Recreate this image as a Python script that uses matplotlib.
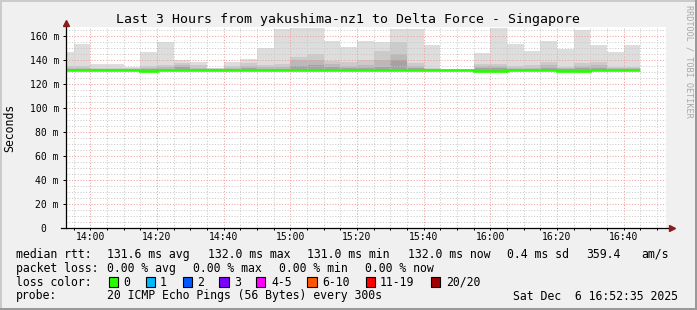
import matplotlib
matplotlib.use("Agg")
import matplotlib.pyplot as plt
from matplotlib.patches import Rectangle
import numpy as np

# ---------------- data ----------------
title = "Last 3 Hours from yakushima-nz1 to Delta Force - Singapore"
period_start = "13:52:35"
period_end = "16:52:35"
# 5-minute slot boundaries (first slot is partial)
slot_edges = ["13:52:35", "13:55", "14:00", "14:05", "14:10", "14:15", "14:20", "14:25",
              "14:30", "14:35", "14:40", "14:45", "14:50", "14:55", "15:00", "15:05",
              "15:10", "15:15", "15:20", "15:25", "15:30", "15:35", "15:40", "15:45",
              "15:50", "15:55", "16:00", "16:05", "16:10", "16:15", "16:20", "16:25",
              "16:30", "16:35", "16:40", "16:45"]
# smoke (ping spread) in ms per slot: outer max, inner quantile layers, min
smoke_max = [146.7, 153.6, 136.7, 136.7, 134.4, 146.7, 155.3, 140.6, 138.6, 133.6,
             138.6, 140.8, 150.3, 165.8, 166.7, 166.7, 155.8, 151.0, 155.8, 155.4,
             166.5, 165.8, 152.5, 132.8, 132.8, 145.8, 166.7, 153.6, 147.5, 155.8,
             149.4, 165.0, 152.5, 146.7, 152.5]
smoke_q2 = [135.0, 135.0, 134.0, 134.0, 133.5, 135.0, 135.8, 137.8, 135.8, 133.2,
            135.3, 137.5, 136.4, 136.7, 142.8, 145.6, 139.4, 138.6, 140.6, 147.8,
            155.6, 137.8, 134.0, 132.5, 132.5, 137.2, 137.2, 135.0, 135.8, 138.6,
            134.4, 137.8, 138.6, 134.4, 134.4]
smoke_q3 = [133.5, 133.5, 133.0, 133.0, 133.0, 133.8, 134.2, 135.8, 134.0, 133.0,
            134.0, 135.0, 134.5, 134.5, 140.0, 140.6, 137.2, 135.0, 136.0, 140.6,
            145.6, 135.0, 133.0, 132.3, 132.3, 135.0, 135.3, 134.0, 134.0, 135.8,
            133.5, 135.0, 135.8, 133.5, 133.5]
smoke_q4 = [132.8, 132.8, 132.5, 132.5, 132.5, 133.0, 133.0, 134.2, 133.0, 132.5,
            133.0, 133.5, 133.0, 133.0, 135.0, 135.8, 134.4, 133.5, 134.0, 134.4,
            140.0, 133.5, 132.5, 132.2, 132.2, 133.5, 133.5, 133.0, 133.0, 134.0,
            132.8, 133.5, 134.0, 132.8, 132.8]
smoke_min = [131.0, 131.0, 131.0, 131.0, 131.0, 130.8, 131.0, 131.0, 131.0, 131.0,
             131.0, 131.0, 131.0, 131.0, 131.0, 131.0, 131.0, 131.0, 131.0, 131.0,
             131.0, 131.0, 131.0, 131.5, 131.5, 130.8, 130.8, 131.0, 131.0, 131.0,
             130.8, 130.8, 131.0, 131.0, 131.0]
median_rtt = [131.6, 131.7, 131.8, 131.8, 131.8, 131.4, 131.8, 131.8, 131.8, 131.8,
              131.8, 131.8, 131.8, 131.8, 131.8, 131.8, 131.8, 131.8, 131.8, 131.8,
              131.8, 131.8, 131.8, 132.0, 132.0, 131.5, 131.5, 131.6, 131.7, 131.7,
              131.5, 131.5, 131.7, 131.7, 132.0]
x_tick_labels = ["14:00", "14:20", "14:40", "15:00", "15:20", "15:40", "16:00", "16:20", "16:40"]
y_ticks = [0, 20, 40, 60, 80, 100, 120, 140, 160]
y_tick_labels = ["0\u00a0\u00a0", "20 m", "40 m", "60 m", "80 m", "100 m", "120 m", "140 m", "160 m"]
loss_labels = ["0", "1", "2", "3", "4-5", "6-10", "11-19", "20/20"]
loss_colors = ["#26ff00", "#00b8ff", "#0059ff", "#7e00ff", "#ff00ff", "#ff5500", "#ff0000", "#a10000"]

# ---------------- helpers ----------------
def to_min(s):
    parts = [float(p) for p in s.split(":")]
    h, m = parts[0], parts[1]
    sec = parts[2] if len(parts) > 2 else 0.0
    return (h * 60 + m + sec / 60.0) - 14 * 60

W, H = 697, 310
MONO = "DejaVu Sans Mono"
plt.rcParams["font.family"] = MONO

fig = plt.figure(figsize=(W / 100, H / 100), dpi=100, facecolor="#f0f0f0")
L, R, T, B = 65.6, 665.6, 27.0, 228.3
ax = fig.add_axes([L / W, 1 - B / H, (R - L) / W, (B - T) / H])
ax.set_facecolor("white")
ax.set_xlim(to_min(period_start), to_min(period_end))
ax.set_ylim(0, (B - T) / 1.2)

edges = np.array([to_min(s) for s in slot_edges])

# smoke layers
layers = [(smoke_max, "#dddddd"), (smoke_q2, "#cbcbcb"), (smoke_q3, "#b9b9b9"), (smoke_q4, "#a3a3a3")]
for vals, col in layers:
    ax.stairs(vals, edges, baseline=smoke_min, fill=True, color=col, lw=0, zorder=1)

# median line
ax.stairs(median_rtt, edges, baseline=None, color="#26ff00", lw=1.9, zorder=4)

# ticks & grid
major_x = [to_min(s) for s in x_tick_labels]
ax.set_xticks(major_x)
ax.set_xticklabels(x_tick_labels)
ax.set_xticks(np.arange(-5, 172, 5), minor=True)
ax.set_yticks(y_ticks)
ax.set_yticklabels(y_tick_labels)
ax.set_yticks(np.arange(0, 168, 5), minor=True)
ax.set_axisbelow(False)
ax.grid(which="minor", color="#c8c8c8", linestyle=(0, (1, 1.8)), lw=0.72)
ax.grid(which="major", color="#f29a9a", linestyle=(0, (1, 1.8)), lw=0.72)
ax.tick_params(axis="x", which="both", direction="out", length=1.6, width=0.72, pad=0.8,
               labelsize=7, colors="black")
ax.tick_params(axis="y", which="major", direction="out", length=2.5, width=0.72, pad=2.3,
               labelsize=7, colors="black")
ax.tick_params(axis="y", which="minor", length=0)
for sp in ax.spines.values():
    sp.set_visible(False)

# axis lines with arrows
ax.plot([-0.0075, 1.008], [0, 0], transform=ax.transAxes, color="black", lw=0.9, clip_on=False, zorder=5)
ax.plot([0, 0], [0, 1.02], transform=ax.transAxes, color="black", lw=0.9, clip_on=False, zorder=5)
ax.plot([1.01], [0], transform=ax.transAxes, marker=">", ms=4.2, color="#8b1a1a", clip_on=False, zorder=6)
ax.plot([0], [1.02], transform=ax.transAxes, marker="^", ms=4.2, color="#8b1a1a", clip_on=False, zorder=6)

def ftext(x, y, s, **kw):
    fig.text(x / W, 1 - y / H, s, **kw)

ftext(W / 2, 19.3, title, ha="center", va="center", fontsize=9.5)
ftext(10, 127.5, "Seconds", ha="center", va="center", rotation=90, fontsize=8.3)
ftext(689, 5, "RRDTOOL / TOBI OETIKER", ha="center", va="top", rotation=270,
      fontsize=6.1, color="#a8a8a8")

LF = 8.3
rows_y = [254.3, 268.3, 282.0, 296.0]
line1 = [(16, "median rtt:"), (107.3, "131.6 ms avg"), (208, "132.0 ms max"),
         (307.3, "131.0 ms min"), (407.7, "132.0 ms now"), (506.7, "0.4 ms sd"),
         (586, "359.4"), (641.7, "am/s")]
line2 = [(16, "packet loss:"), (107.3, "0.00 % avg"), (193.3, "0.00 % max"),
         (279.3, "0.00 % min"), (365, "0.00 % now")]
for x, s in line1:
    ftext(x, rows_y[0], s, ha="left", va="center", fontsize=LF)
for x, s in line2:
    ftext(x, rows_y[1], s, ha="left", va="center", fontsize=LF)

ftext(16, rows_y[2], "loss color:", ha="left", va="center", fontsize=LF)
box_x = [108.7, 145.7, 182.7, 219.3, 256.0, 307.3, 365.7, 430.7]
lab_x = [123.3, 160.0, 197.0, 234.0, 271.0, 322.3, 380.0, 445.7]
for bx, lx, lab, col in zip(box_x, lab_x, loss_labels, loss_colors):
    fig.patches.append(Rectangle((bx / W, 1 - 287.0 / H), 9.3 / W, 10.5 / H,
                                 transform=fig.transFigure, facecolor=col,
                                 edgecolor="black", lw=0.8))
    ftext(lx, rows_y[2], lab, ha="left", va="center", fontsize=LF)

ftext(16, rows_y[3], "probe:", ha="left", va="center", fontsize=LF)
ftext(107.3, rows_y[3], "20 ICMP Echo Pings (56 Bytes) every 300s", ha="left", va="center", fontsize=LF)
ftext(513.3, rows_y[3], "Sat Dec  6 16:52:35 2025", ha="left", va="center", fontsize=LF)

# 3D frame
SA, SB = "#cbcbcb", "#999999"
fig.patches.append(Rectangle((0, 1 - 2 / H), 1, 2 / H, transform=fig.transFigure, color=SA, lw=0))
fig.patches.append(Rectangle((0, 0), 2 / W, 1, transform=fig.transFigure, color=SA, lw=0))
fig.patches.append(Rectangle((1 - 2.5 / W, 0), 2.5 / W, 1, transform=fig.transFigure, color=SB, lw=0))
fig.patches.append(Rectangle((0, 0), 1, 2.5 / H, transform=fig.transFigure, color=SB, lw=0))

fig.savefig("out.png", dpi=100, facecolor=fig.get_facecolor())
